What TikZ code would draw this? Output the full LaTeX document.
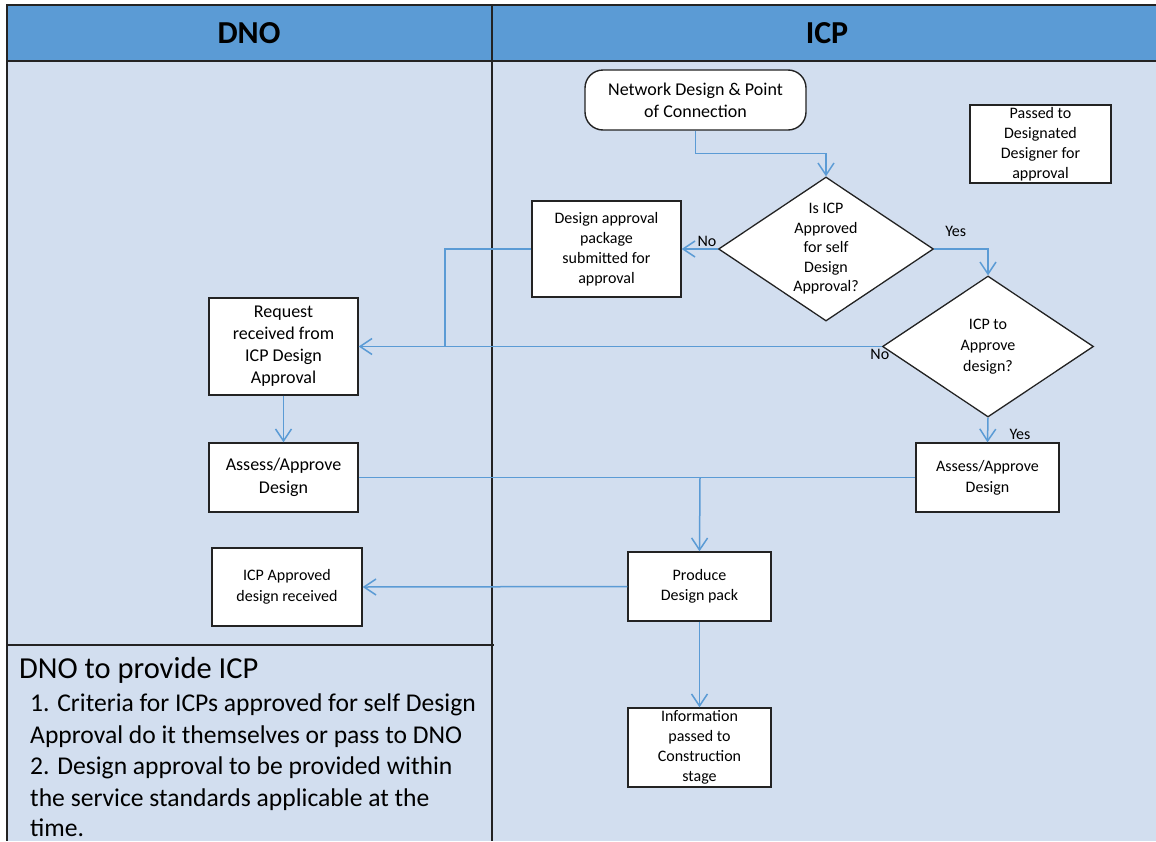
\documentclass[tikz,border=0pt]{standalone}
\usepackage{fontspec}
\setmainfont{Carlito}
\usetikzlibrary{shapes.geometric,arrows.meta}
\definecolor{hdr}{RGB}{91,155,213}
\definecolor{bodybg}{RGB}{210,222,239}
\definecolor{conncol}{RGB}{91,155,213}
\definecolor{edgecol}{RGB}{35,35,35}
\begin{document}
\begin{tikzpicture}[x=1pt,y=-1pt,
  box/.style={draw=edgecol, line width=1.4pt, fill=white, inner sep=0pt, align=center, font=\fontsize{16}{20}\selectfont},
  bigtext/.style={font=\fontsize{18}{22}\selectfont},
  dia/.style={diamond, shape aspect=1.5, draw=edgecol, line width=1.3pt, fill=white, inner sep=0pt, align=center, font=\fontsize{16}{19.5}\selectfont},
  conn/.style={draw=conncol, line width=1.5pt},
  arr/.style={conn, -{Straight Barb[length=12pt,width=16pt]}},
  lbl/.style={font=\fontsize{16}{19}\selectfont, inner sep=1pt, text=black},
  hdrtext/.style={font=\fontsize{32}{36}\selectfont\bfseries},
  notetext/.style={anchor=base west, inner sep=0pt, font=\fontsize{25.6}{31}\selectfont},
  frame/.style={draw=edgecol, line width=1.3pt}
]
\useasboundingbox (0,0) rectangle (1156,841);
\fill[white] (0,0) rectangle (1156,841);
\fill[bodybg] (7,61) rectangle (1156,841);
\fill[hdr] (7,5) rectangle (1156,61);
\draw[frame, line width=1.8pt] (1156,5) -- (7,5) -- (7,841);
\draw[frame] (7,61) -- (1156,61);
\draw[frame] (492,5) -- (492,841);
\draw[frame] (7,645) -- (494,645);

\node[hdrtext] (hdno) at (249,33) {DNO};
\node[hdrtext] (hicp) at (827,33) {ICP};

% bottom note
\node[notetext, font=\fontsize{30.5}{31}\selectfont] (note1) at (19,678) {DNO to provide ICP};
\node[notetext] (note2) at (30,711) {1. Criteria for ICPs approved for self Design};
\node[notetext] (note3) at (30,743) {Approval do it themselves or pass to DNO};
\node[notetext] (note4) at (30,774) {2. Design approval to be provided within};
\node[notetext] (note5) at (30,806) {the service standards applicable at the};
\node[notetext] (note6) at (30,836) {time.};

% nodes
\node[box, bigtext, rounded corners=18pt, minimum width=221pt, minimum height=60pt] (ndp) at (695.5,100) {Network Design \& Point\\of Connection};
\node[dia, minimum width=215pt, minimum height=144pt] (d1) at (826,249) {Is ICP\\Approved\\for self\\Design\\Approval?};
\node[box, minimum width=149pt, minimum height=96pt] (dap) at (606.5,249) {Design approval\\package\\submitted for\\approval};
\node[box, minimum width=141pt, minimum height=78pt] (pdd) at (1040.5,144) {Passed to\\Designated\\Designer for\\approval};
\node[dia, font=\fontsize{16}{21}\selectfont, minimum width=211pt, minimum height=141pt] (d2) at (988,346.5) {ICP to\\Approve\\design?};
\node[box, bigtext, minimum width=149pt, minimum height=97pt] (req) at (283.5,346.5) {Request\\received from\\ICP Design\\Approval};
\node[box, bigtext, font=\fontsize{18}{23}\selectfont, minimum width=149pt, minimum height=69pt] (aal) at (283.5,477.5) {Assess/Approve\\Design};
\node[box, font=\fontsize{16}{21}\selectfont, minimum width=143pt, minimum height=69pt] (aar) at (987.5,477.5) {Assess/Approve\\Design};
\node[box, font=\fontsize{16}{21}\selectfont, minimum width=150pt, minimum height=78pt] (icpr) at (287,587) {ICP Approved\\design received};
\node[box, minimum width=143pt, minimum height=69pt] (pdp) at (699.5,586.5) {Produce\\Design pack};
\node[box, minimum width=143pt, minimum height=79pt] (info) at (699.5,747.5) {Information\\passed to\\Construction\\stage};

\coordinate (j1) at (445,346.5);
\coordinate (j2) at (700,477.5);

% connectors
\draw[arr] (ndp.south) -- ++(0,23) -| (d1.north);
\draw[arr] (d1.west) -- (dap.east) node[lbl, pos=0.3, anchor=south, yshift=1pt] {No};
\draw[arr] (d1.east) -| (d2.north) node[lbl, pos=0.2, anchor=south, yshift=11pt] {Yes};
\draw[conn] (dap.west) -| (j1);
\draw[arr] (d2.west) -- (req.east) node[lbl, at start, anchor=north, xshift=-2pt, yshift=-1pt] {No};
\draw[arr] (req.south) -- (aal.north);
\draw[arr] (d2.south) -- (aar.north) node[lbl, midway, anchor=west, xshift=20pt, yshift=-4pt] {Yes};
\draw[conn] (aal.east) -- (aar.west);
\draw[arr] (j2) -- (pdp.north);
\draw[arr] (pdp.west) -- (icpr.east);
\draw[arr] (pdp.south) -- (info.north);
\end{tikzpicture}
\end{document}
